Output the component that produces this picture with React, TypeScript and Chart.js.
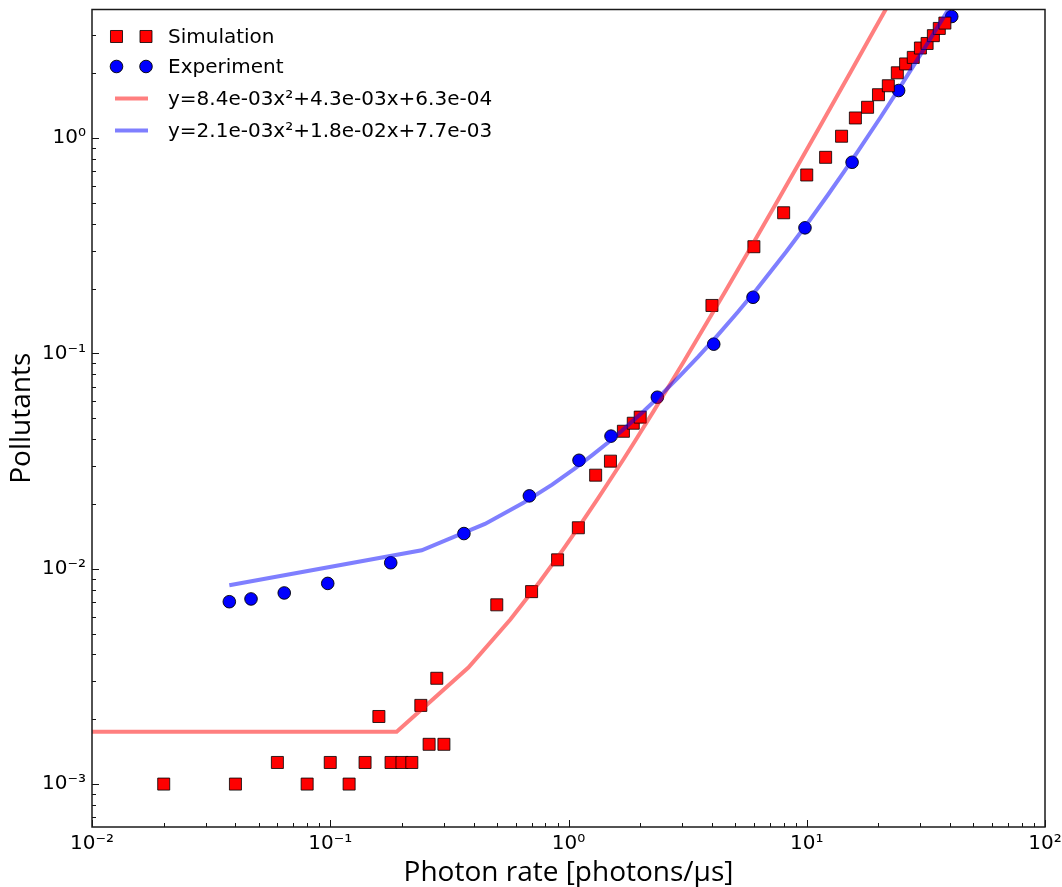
import React, { useEffect, useRef } from 'react';
import { Chart, registerables } from 'chart.js';

Chart.register(...registerables);

// Simulated pollutant counts vs. photon rate
const simulationRate = [
  0.02, 0.04, 0.06, 0.08, 0.1, 0.12, 0.14, 0.16, 0.18, 0.2, 0.22, 0.24, 0.26, 0.28, 0.3,
  0.5, 0.7, 0.9, 1.1, 1.3, 1.5, 1.7, 1.87, 2.0,
  4, 6, 8, 10, 12, 14, 16, 18, 20, 22, 24, 26, 28, 30, 32, 34, 36, 38,
];
const simulationPollutants = [
  0.001, 0.001, 0.00126, 0.001, 0.00126, 0.001, 0.00126, 0.00206, 0.00126, 0.00126, 0.00126,
  0.00232, 0.00153, 0.0031, 0.00153,
  0.0068, 0.00783, 0.011, 0.0155, 0.0272, 0.0316, 0.0435, 0.0474, 0.0506,
  0.167, 0.313, 0.45, 0.674, 0.814, 1.02, 1.24, 1.39, 1.59, 1.75, 2.01, 2.21, 2.37, 2.62,
  2.75, 2.99, 3.23, 3.42,
];

// Measured pollutant counts vs. photon rate
const experimentRate = [
  0.0377, 0.0465, 0.0641, 0.0976, 0.1794, 0.364, 0.685, 1.107, 1.508, 2.36, 4.07, 5.95,
  9.83, 15.5, 24.3, 40.6,
];
const experimentPollutants = [
  0.00703, 0.00724, 0.00772, 0.00855, 0.01066, 0.01457, 0.0218, 0.0319, 0.0413, 0.0626,
  0.1104, 0.1823, 0.383, 0.772, 1.663, 3.67,
];

// Quadratic fit curve through the simulation
const simFitRate = [
  0.005, 0.19, 0.38, 0.57, 0.76, 0.95, 1.14, 1.33, 1.52, 1.71, 1.9, 2.28, 2.66, 3.04, 3.8,
  4.56, 5.7, 7.6, 9.5, 11.4, 13.3, 15.2, 17.1, 19, 20.9, 22.8,
];
const simFitPollutants = [
  0.00175, 0.00175, 0.00348, 0.00581, 0.00875, 0.0123, 0.01645, 0.0212, 0.0266, 0.0325,
  0.0391, 0.0541, 0.0715, 0.0913, 0.1383, 0.195, 0.298, 0.518, 0.8, 1.141, 1.544, 2.007,
  2.53, 3.115, 3.76, 4.47,
];

// Quadratic fit curve through the experiment
const expFitRate = [
  0.0377, 0.242, 0.446, 0.65, 0.854, 1.058, 1.262, 1.466, 1.67, 2.078, 2.486, 2.894, 3.506,
  4.118, 5.138, 6.158, 8.198, 10.24, 12.28, 14.32, 16.36, 20.44, 24.52, 28.6, 32.68, 36.76,
  40.6,
];
const expFitPollutants = [
  0.00838, 0.01218, 0.01615, 0.0203, 0.0246, 0.0291, 0.0338, 0.0386, 0.0436, 0.0542, 0.0654,
  0.0774, 0.0966, 0.1174, 0.1556, 0.1981, 0.2964, 0.4122, 0.5454, 0.6961, 0.8643, 1.253,
  1.712, 2.24, 2.839, 3.507, 4.2,
];

const seriesLabels = [
  'Simulation',
  'Experiment',
  'y=8.4e-03x²+4.3e-03x+6.3e-04',
  'y=2.1e-03x²+1.8e-02x+7.7e-03',
];

const xTickValues = [0.01, 0.1, 1, 10, 100];
const xTickLabels = ['10⁻²', '10⁻¹', '10⁰', '10¹', '10²'];
const yTickValues = [0.001, 0.01, 0.1, 1];
const yTickLabels = ['10⁻³', '10⁻²', '10⁻¹', '10⁰'];

const xTitle = 'Photon rate [photons/µs]';
const yTitle = 'Pollutants';

const X_MIN = 0.01;
const X_MAX = 100;
const Y_MIN = 6.32e-4;
const Y_MAX = 3.955;

const toPoints = (xs: number[], ys: number[]) => xs.map((x, i) => ({ x, y: ys[i] }));

function minorValues(min: number, max: number): number[] {
  const out: number[] = [];
  const lo = Math.floor(Math.log10(min));
  const hi = Math.ceil(Math.log10(max));
  for (let e = lo; e < hi; e++) {
    for (let m = 2; m <= 9; m++) {
      const v = m * Math.pow(10, e);
      if (v > min && v < max) out.push(v);
    }
  }
  return out;
}

// Axes box with inward ticks on the bottom and left sides
const frameTicksPlugin = {
  id: 'frameTicks',
  afterDraw(chart: any) {
    const { ctx, chartArea: a, scales } = chart;
    const xs = scales.x;
    const ys = scales.y;
    ctx.save();
    ctx.strokeStyle = '#111';
    ctx.lineWidth = 1;
    ctx.beginPath();
    xTickValues.forEach((v) => {
      const p = Math.round(xs.getPixelForValue(v)) + 0.5;
      ctx.moveTo(p, a.bottom);
      ctx.lineTo(p, a.bottom - 7);
    });
    minorValues(X_MIN, X_MAX).forEach((v) => {
      const p = Math.round(xs.getPixelForValue(v)) + 0.5;
      ctx.moveTo(p, a.bottom);
      ctx.lineTo(p, a.bottom - 4);
    });
    yTickValues.forEach((v) => {
      const p = Math.round(ys.getPixelForValue(v)) + 0.5;
      ctx.moveTo(a.left, p);
      ctx.lineTo(a.left + 7, p);
    });
    minorValues(Y_MIN, Y_MAX).forEach((v) => {
      const p = Math.round(ys.getPixelForValue(v)) + 0.5;
      ctx.moveTo(a.left, p);
      ctx.lineTo(a.left + 4, p);
    });
    ctx.stroke();
    ctx.lineWidth = 1.5;
    ctx.strokeStyle = '#1a1a1a';
    ctx.strokeRect(a.left, a.top, a.right - a.left, a.bottom - a.top);
    ctx.restore();
  },
};

// Frameless legend with two sample markers per point series
const legendPlugin = {
  id: 'pairLegend',
  afterDraw(chart: any) {
    const { ctx, chartArea: a } = chart;
    const x0 = a.left;
    const rows = [27, 57, 89, 121];
    ctx.save();
    ctx.font = '20px "DejaVu Sans"';
    ctx.textBaseline = 'middle';
    ctx.textAlign = 'left';
    chart.data.datasets.forEach((ds: any, i: number) => {
      const y = a.top + rows[i];
      if (ds.showLine) {
        ctx.strokeStyle = ds.borderColor;
        ctx.lineWidth = ds.borderWidth;
        ctx.beginPath();
        ctx.moveTo(x0 + 23, y);
        ctx.lineTo(x0 + 56, y);
        ctx.stroke();
      } else {
        [x0 + 24.5, x0 + 54].forEach((cx) => {
          ctx.fillStyle = ds.backgroundColor;
          ctx.strokeStyle = ds.borderColor;
          ctx.lineWidth = ds.borderWidth;
          ctx.beginPath();
          if (ds.pointStyle === 'rect') {
            const h = ds.pointRadius * Math.SQRT1_2;
            ctx.rect(cx - h, y - h, 2 * h, 2 * h);
          } else {
            ctx.arc(cx, y, ds.pointRadius, 0, Math.PI * 2);
          }
          ctx.fill();
          ctx.stroke();
        });
      }
      ctx.fillStyle = '#000';
      ctx.fillText(ds.label, x0 + 76, y + 1);
    });
    ctx.restore();
  },
};

export default function App() {
  const canvasRef = useRef<HTMLCanvasElement | null>(null);

  useEffect(() => {
    const canvas = canvasRef.current;
    if (!canvas) return;
    const tickFont = { family: '"DejaVu Sans"', size: 20 };
    const titleFont = { family: '"Open Sans"', size: 28, lineHeight: 1 };

    const chart = new Chart(canvas, {
      type: 'scatter',
      data: {
        datasets: [
          {
            label: seriesLabels[0],
            data: toPoints(simulationRate, simulationPollutants),
            pointStyle: 'rect',
            pointRadius: 8.5,
            backgroundColor: '#ff0000',
            borderColor: 'rgba(0,0,0,0.8)',
            borderWidth: 1,
            showLine: false,
            order: 2,
          },
          {
            label: seriesLabels[1],
            data: toPoints(experimentRate, experimentPollutants),
            pointStyle: 'circle',
            pointRadius: 6.3,
            backgroundColor: '#0000ff',
            borderColor: 'rgba(0,0,0,0.9)',
            borderWidth: 1,
            showLine: false,
            order: 2,
          },
          {
            label: seriesLabels[2],
            data: toPoints(simFitRate, simFitPollutants),
            showLine: true,
            pointRadius: 0,
            borderColor: 'rgba(255,0,0,0.5)',
            backgroundColor: 'rgba(255,0,0,0.5)',
            borderWidth: 4,
            order: 1,
          },
          {
            label: seriesLabels[3],
            data: toPoints(expFitRate, expFitPollutants),
            showLine: true,
            pointRadius: 0,
            borderColor: 'rgba(0,0,255,0.5)',
            backgroundColor: 'rgba(0,0,255,0.5)',
            borderWidth: 4,
            order: 0,
          },
        ],
      },
      options: {
        animation: false,
        responsive: false,
        maintainAspectRatio: false,
        layout: { padding: { top: 7, right: 17, left: 0, bottom: 0 } },
        plugins: {
          legend: { display: false },
          tooltip: { enabled: false },
        },
        scales: {
          x: {
            type: 'logarithmic',
            min: X_MIN,
            max: X_MAX,
            bounds: 'data',
            grid: { display: false, drawTicks: false },
            border: { display: false },
            afterBuildTicks: (scale: any) => {
              scale.ticks = xTickValues.map((value) => ({ value }));
            },
            afterFit: (scale: any) => {
              scale.height = 60;
              scale.paddingLeft = 0;
              scale.paddingRight = 0;
            },
            ticks: {
              autoSkip: false,
              maxRotation: 0,
              padding: 5,
              color: '#000',
              font: tickFont,
              callback: (v: any) => xTickLabels[xTickValues.indexOf(Number(v))] ?? '',
            },
            title: {
              display: true,
              text: xTitle,
              color: '#000',
              font: titleFont,
              padding: { top: 0, bottom: 0 },
            },
          },
          y: {
            type: 'logarithmic',
            min: Y_MIN,
            max: Y_MAX,
            bounds: 'data',
            grid: { display: false, drawTicks: false },
            border: { display: false },
            afterBuildTicks: (scale: any) => {
              scale.ticks = yTickValues.map((value) => ({ value }));
            },
            afterFit: (scale: any) => {
              scale.width = 92;
              scale.paddingTop = 0;
              scale.paddingBottom = 0;
            },
            ticks: {
              autoSkip: false,
              padding: 6,
              color: '#000',
              font: tickFont,
              callback: (v: any) => yTickLabels[yTickValues.indexOf(Number(v))] ?? '',
            },
            title: {
              display: true,
              text: yTitle,
              color: '#000',
              font: titleFont,
              padding: { top: 8, bottom: 0 },
            },
          },
        },
      },
      plugins: [frameTicksPlugin, legendPlugin],
    } as any);

    return () => chart.destroy();
  }, []);

  return (
    <div style={{ position: 'absolute', left: 0, top: 0, width: 1062, height: 887, background: '#fff' }}>
      <canvas ref={canvasRef} width={1062} height={887} style={{ width: 1062, height: 887, display: 'block' }} />
    </div>
  );
}
